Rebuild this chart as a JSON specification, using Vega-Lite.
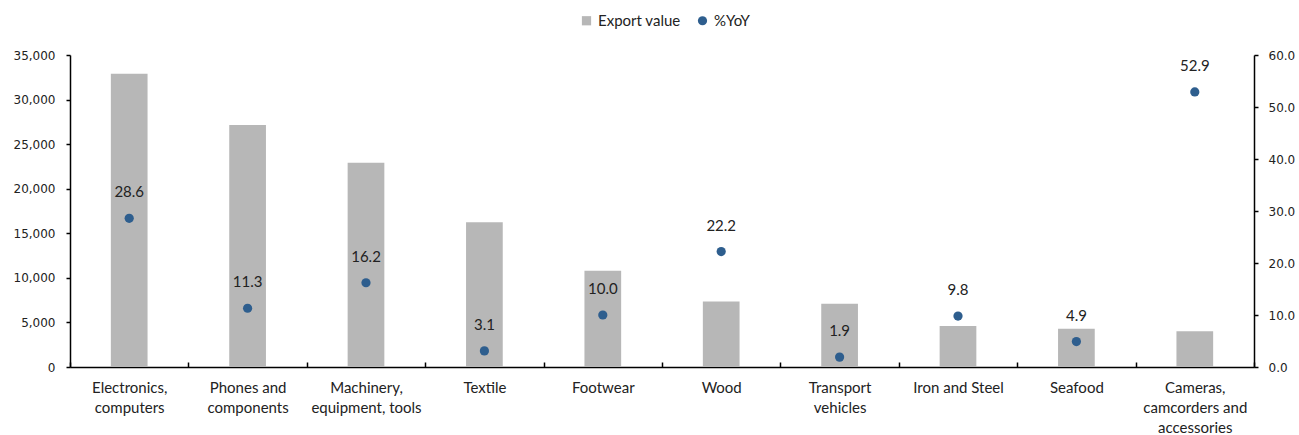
{
  "$schema": "https://vega.github.io/schema/vega-lite/v6.json",
  "width": 1184,
  "height": 312,
  "autosize": "none",
  "padding": {"left": 70, "top": 55, "right": 45, "bottom": 68},
  "data": {
    "values": [
      {"category": "Electronics, computers", "export": 32900, "yoy": 28.6},
      {"category": "Phones and components", "export": 27150, "yoy": 11.3},
      {"category": "Machinery, equipment, tools", "export": 22900, "yoy": 16.2},
      {"category": "Textile", "export": 16250, "yoy": 3.1},
      {"category": "Footwear", "export": 10800, "yoy": 10.0},
      {"category": "Wood", "export": 7350, "yoy": 22.2},
      {"category": "Transport vehicles", "export": 7100, "yoy": 1.9},
      {"category": "Iron and Steel", "export": 4600, "yoy": 9.8},
      {"category": "Seafood", "export": 4300, "yoy": 4.9},
      {"category": "Cameras, camcorders and accessories", "export": 4000, "yoy": 52.9}
    ]
  },
  "encoding": {
    "x": {
      "field": "category",
      "type": "nominal",
      "sort": null,
      "scale": {"paddingInner": 0, "paddingOuter": 0},
      "axis": {
        "title": null,
        "labelAngle": 0,
        "tickBand": "extent",
        "tickSize": -5,
        "tickColor": "#000",
        "tickWidth": 1.5,
        "domainColor": "#000",
        "domainWidth": 1.5,
        "labelPadding": 25,
        "labelFont": "Lato",
        "labelFontSize": 15,
        "labelColor": "#222",
        "labelLineHeight": 20,
        "labelBaseline": "middle",
        "labelExpr": "datum.label == 'Electronics, computers' ? ['Electronics,', 'computers'] : datum.label == 'Phones and components' ? ['Phones and', 'components'] : datum.label == 'Machinery, equipment, tools' ? ['Machinery,', 'equipment, tools'] : datum.label == 'Transport vehicles' ? ['Transport', 'vehicles'] : datum.label == 'Cameras, camcorders and accessories' ? ['Cameras,', 'camcorders and', 'accessories'] : datum.label"
      }
    }
  },
  "layer": [
    {
      "mark": {"type": "bar", "width": {"band": 0.31}},
      "encoding": {
        "y": {
          "field": "export",
          "type": "quantitative",
          "scale": {"domain": [0, 35000], "nice": false},
          "axis": {
            "title": null,
            "values": [0, 5000, 10000, 15000, 20000, 25000, 30000, 35000],
            "format": ",.0f",
            "grid": false,
            "domainColor": "#000",
            "domainWidth": 1.5,
            "tickColor": "#000",
            "tickWidth": 1.5,
            "tickSize": 4,
            "labelPadding": 11,
            "labelFont": "DejaVu Sans",
            "labelFontSize": 12,
            "labelColor": "#222"
          }
        },
        "color": {
          "datum": "Export value",
          "type": "nominal",
          "scale": {"domain": ["Export value", "%YoY"], "range": ["#b7b7b7", "#2e5e8e"]},
          "legend": {
            "title": null,
            "orient": "none",
            "legendX": 509,
            "legendY": -42,
            "direction": "horizontal",
            "labelFont": "Lato",
            "labelFontSize": 15,
            "labelColor": "#222",
            "symbolSize": 85,
            "symbolStrokeWidth": 0,
            "labelOffset": 4,
            "columnPadding": 14
          }
        }
      }
    },
    {
      "encoding": {
        "y": {
          "field": "yoy",
          "type": "quantitative",
          "scale": {"domain": [0, 60], "nice": false},
          "axis": {
            "orient": "right",
            "title": null,
            "values": [0, 10, 20, 30, 40, 50, 60],
            "format": ".1f",
            "grid": false,
            "domainColor": "#000",
            "domainWidth": 1.5,
            "tickColor": "#000",
            "tickWidth": 1.5,
            "tickSize": 4,
            "labelPadding": 10,
            "labelFont": "DejaVu Sans",
            "labelFontSize": 12,
            "labelColor": "#222"
          }
        }
      },
      "layer": [
        {
          "mark": {"type": "point", "filled": true, "opacity": 1, "size": 85},
          "encoding": {
            "color": {"datum": "%YoY", "type": "nominal"},
            "shape": {
              "datum": "%YoY",
              "type": "nominal",
              "scale": {"domain": ["Export value", "%YoY"], "range": ["square", "circle"]}
            }
          }
        },
        {
          "mark": {"type": "text", "dy": -26, "baseline": "middle", "font": "Lato", "fontSize": 15, "color": "#222"},
          "encoding": {
            "text": {"field": "yoy", "type": "quantitative", "format": ".1f"}
          }
        }
      ]
    }
  ],
  "resolve": {"scale": {"y": "independent"}},
  "config": {"view": {"stroke": null}}
}
